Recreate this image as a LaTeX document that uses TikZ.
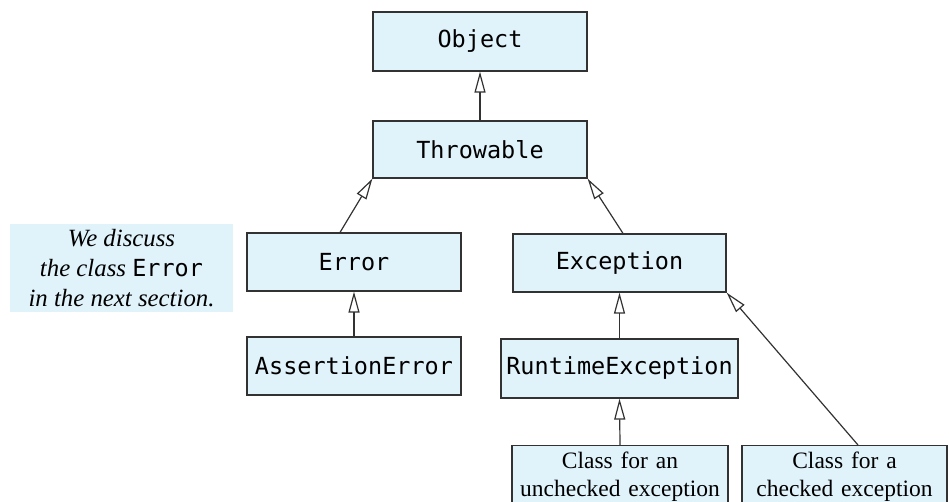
\documentclass[tikz,border=0pt]{standalone}
\usepackage{fontspec}
\setmainfont{Liberation Serif}
\setmonofont{DejaVu Sans Mono}
\usetikzlibrary{arrows.meta}
\definecolor{boxblue}{RGB}{224,242,250}
\definecolor{edge}{RGB}{50,50,50}
\begin{document}
\begin{tikzpicture}[x=1pt,y=-1pt,
  cls/.style={draw=edge, line width=1.2pt, fill=boxblue, inner sep=0pt,
    font=\fontsize{23.5}{28}\selectfont\ttfamily},
  txtbox/.style={draw=edge, line width=1.2pt, fill=boxblue, inner xsep=0pt, inner ysep=6pt,
    anchor=north, align=center, font=\fontsize{23.5}{28}\selectfont},
  inh/.style={draw=edge, line width=1.2pt, -{Triangle[open, length=21pt, width=11pt]}}]
\useasboundingbox (0,0) rectangle (949,501);
\clip (0,0) rectangle (949,501);
\node[cls, minimum width=214pt, minimum height=59pt] (object) at (480,41.5) {Object};
\node[cls, minimum width=214pt, minimum height=57pt] (throwable) at (480,149.5) {Throwable};
\node[cls, minimum width=214pt, minimum height=58pt] (error) at (354,262) {Error};
\node[cls, minimum width=213pt, minimum height=58pt] (exception) at (619.5,263) {Exception};
\node[cls, minimum width=214pt, minimum height=58pt] (assert) at (354,366) {AssertionError};
\node[cls, minimum width=237pt, minimum height=59pt] (runtime) at (619.5,368.5) {RuntimeException};
\node[txtbox, text width=216pt] (unchecked) at (620,445) {Class for an\\unchecked exception};
\node[txtbox, text width=205pt] (checked) at (844.5,445) {Class for a\\checked exception};
\node[fill=boxblue, minimum width=223pt, minimum height=88pt, inner sep=0pt, align=center,
  font=\fontsize{24.8}{30}\selectfont\itshape] (note) at (121.5,268)
  {We discuss\\the class {\upshape\ttfamily\fontsize{23.5}{30}\selectfont Error}\\in the next section.};
\draw[inh] (throwable.north) -- (object.south);
\draw[inh] ([xshift=-14pt]error.north) -- (throwable.south west);
\draw[inh] ([xshift=3.5pt]exception.north) -- (throwable.south east);
\draw[inh] (assert.north) -- (error.south);
\draw[inh] (runtime.north) -- (exception.south);
\draw[inh] (unchecked.north) -- (runtime.south);
\draw[inh] ([xshift=13.5pt]checked.north) -- (exception.south east);
\end{tikzpicture}
\end{document}
